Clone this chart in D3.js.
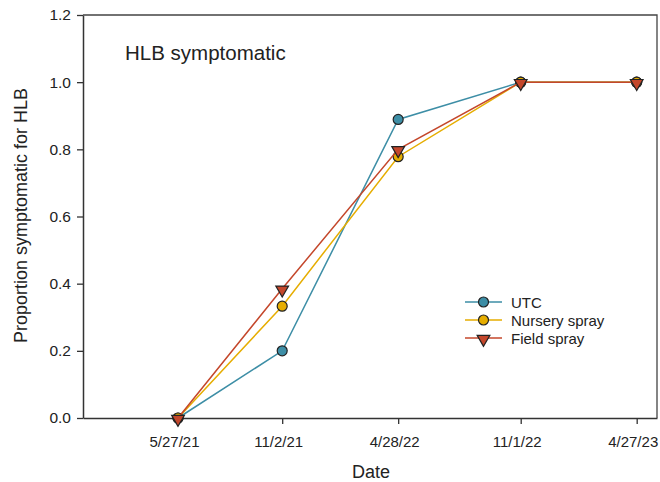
<!DOCTYPE html>
<html>
<head>
<meta charset="utf-8">
<script src="https://cdn.jsdelivr.net/npm/d3@7"></script>
<style>
    body { margin: 0; background: #fff; }
    text { font-family: "Liberation Sans", Arial, sans-serif; fill: #222; }
</style>
</head>
<body>
<div id="chart"></div>
<script>
"use strict";

// chart data
var dates = ["2021-05-27", "2021-11-02", "2022-04-28", "2022-11-01", "2023-04-27"];
var dateLabels = ["5/27/21", "11/2/21", "4/28/22", "11/1/22", "4/27/23"];
var utc = [0, 0.2, 0.889, 1, 1];
var nursery = [0, 0.333, 0.778, 1, 1];
var field = [0, 0.385, 0.8, 1, 1];
var yTicks = [0, 0.2, 0.4, 0.6, 0.8, 1.0, 1.2];

var seriesList = [
    {name: "UTC", values: utc, color: "#3d8ea6", shape: "circle"},
    {name: "Nursery spray", values: nursery, color: "#e6ad00", shape: "circle"},
    {name: "Field spray", values: field, color: "#c4472b", shape: "triangle"}
];

var w = 660, h = 482;
var margin = {top: 15, right: 3, bottom: 64, left: 83};

var parse = d3.timeParse("%Y-%m-%d");

var svg = d3.select("#chart")
    .append("svg")
    .attr("width", w)
    .attr("height", h);

//scales
var x = d3.scaleTime()
    .domain([parse("2021-01-02"), parse("2023-05-28")])
    .range([margin.left, w - margin.right]);

var y = d3.scaleLinear()
    .domain([0, 1.2])
    .range([h - margin.bottom, margin.top]);

//x axis
var xAxis = svg.append("g")
    .attr("transform", "translate(0," + (h - margin.bottom) + ")")
    .call(d3.axisBottom(x)
        .tickValues(dates.map(parse))
        .tickFormat(function(d, i) { return dateLabels[i]; })
        .tickSize(6)
        .tickSizeOuter(0)
        .tickPadding(12));
xAxis.selectAll("text")
    .attr("dx", -4)
    .style("font-size", "15px")
    .attr("fill", "#222");

//y axis
var yAxis = svg.append("g")
    .attr("transform", "translate(" + margin.left + ",0)")
    .call(d3.axisLeft(y)
        .tickValues(yTicks)
        .tickFormat(d3.format(".1f"))
        .tickSize(6)
        .tickSizeOuter(0)
        .tickPadding(6));
yAxis.selectAll("text").style("font-size", "15.5px").attr("fill", "#222");

svg.selectAll(".domain").attr("stroke", "#333").attr("stroke-width", 1.5);
svg.selectAll(".tick line").attr("stroke", "#333").attr("stroke-width", 1.3);

//frame top and right
svg.append("path")
    .attr("d", "M" + margin.left + "," + margin.top + "H" + (w - margin.right) + "V" + (h - margin.bottom))
    .attr("fill", "none")
    .attr("stroke", "#444")
    .attr("stroke-width", 1.3);

//axis titles
svg.append("text")
    .attr("x", 371)
    .attr("y", 478)
    .style("text-anchor", "middle")
    .style("font-size", "18px")
    .text("Date");

svg.append("text")
    .attr("transform", "rotate(-90)")
    .attr("x", -y(0.6) + 1)
    .attr("y", 27)
    .style("text-anchor", "middle")
    .style("font-size", "18px")
    .text("Proportion symptomatic for HLB");

//chart title
svg.append("text")
    .attr("x", 125)
    .attr("y", 60)
    .style("font-size", "20.5px")
    .text("HLB symptomatic");

var tri = d3.symbol().type(d3.symbolTriangle).size(70);

function drawMarker(g, shape, color) {
    if (shape === "circle") {
        g.append("circle")
            .attr("r", 5)
            .attr("fill", color)
            .attr("stroke", "#222")
            .attr("stroke-width", 1.2);
    } else {
        g.append("path")
            .attr("d", tri)
            .attr("transform", "rotate(180) translate(0,-1)")
            .attr("fill", color)
            .attr("stroke", "#222")
            .attr("stroke-width", 1.2);
    }
}

var line = d3.line()
    .x(function(d, i) { return x(parse(dates[i])); })
    .y(function(d) { return y(d); });

//lines and markers
seriesList.forEach(function(s) {
    svg.append("path")
        .datum(s.values)
        .attr("fill", "none")
        .attr("stroke", s.color)
        .attr("stroke-width", 1.5)
        .attr("d", line);

    s.values.forEach(function(v, i) {
        var g = svg.append("g")
            .attr("transform", "translate(" + x(parse(dates[i])) + "," + y(v) + ")");
        drawMarker(g, s.shape, s.color);
    });
});

//legend
var legend = svg.selectAll(".legend")
    .data(seriesList)
    .enter().append("g")
    .attr("class", "legend")
    .attr("transform", function(d, i) {
        return "translate(465," + (302 + i * 18) + ")";
    });

legend.append("line")
    .attr("x1", 0)
    .attr("x2", 37)
    .attr("stroke", function(d) { return d.color; })
    .attr("stroke-width", 1.5);

legend.each(function(d) {
    var g = d3.select(this).append("g").attr("transform", "translate(18.5,0)");
    drawMarker(g, d.shape, d.color);
});

legend.append("text")
    .attr("x", 46)
    .attr("y", 5.5)
    .style("font-size", "15px")
    .text(function(d) { return d.name; });
</script>
</body>
</html>
